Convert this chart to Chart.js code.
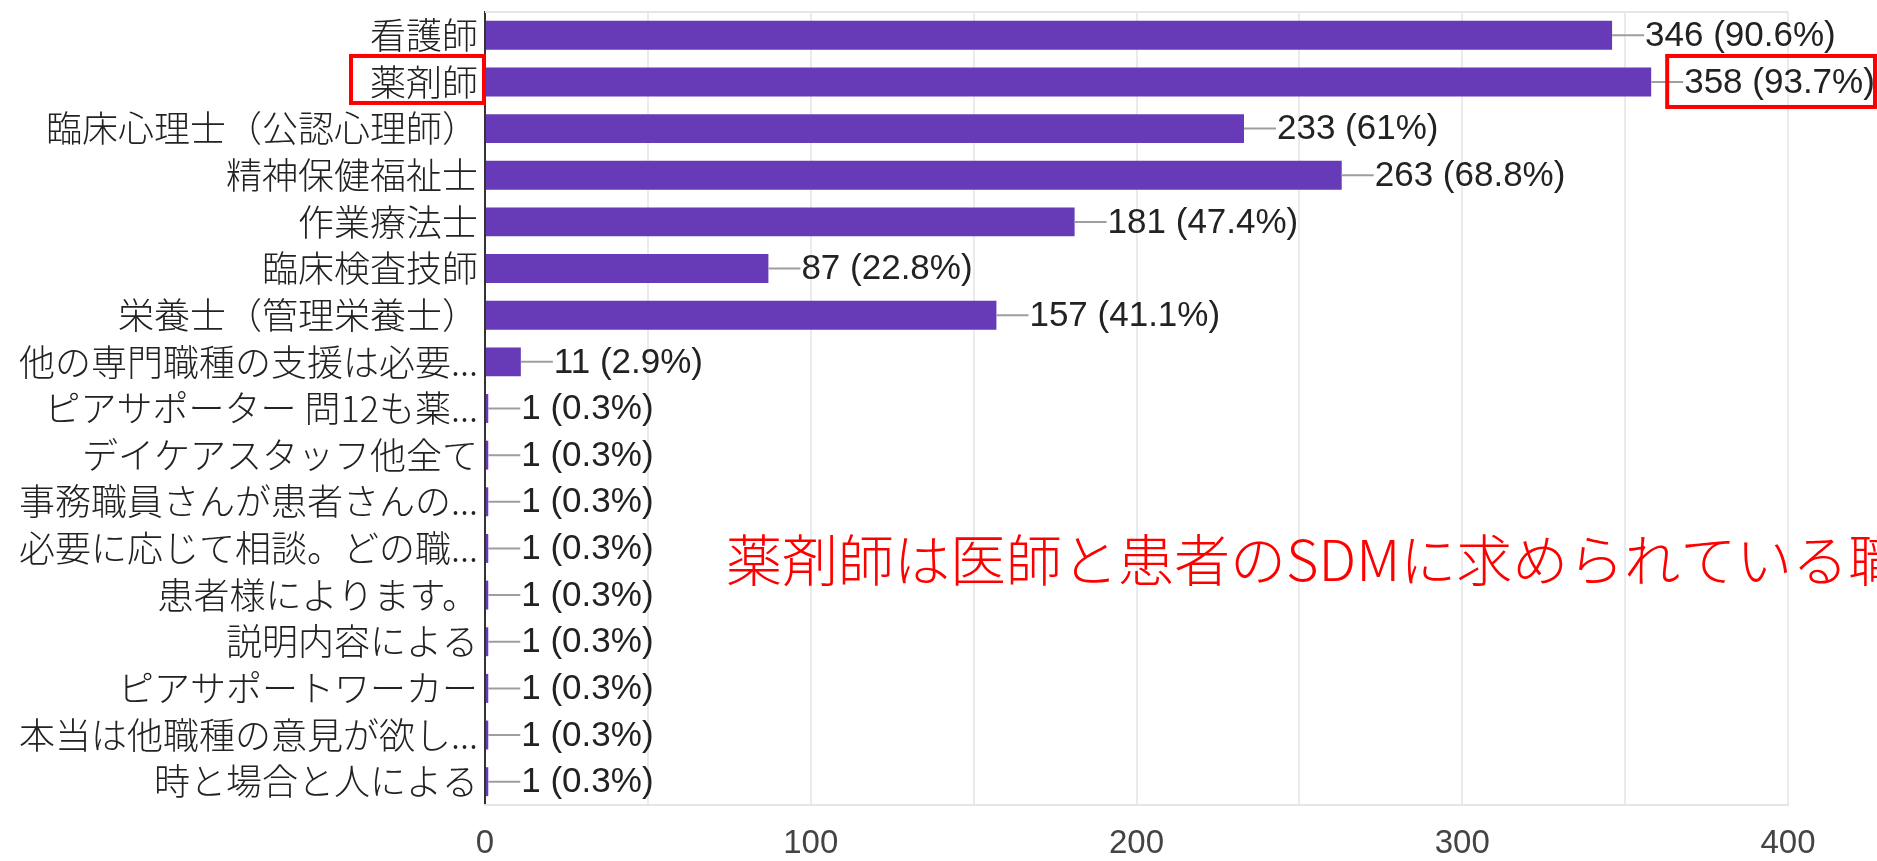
<!DOCTYPE html>
<html>
<head>
<meta charset="utf-8">
<script src="https://cdn.jsdelivr.net/npm/chart.js@4.4.1/dist/chart.umd.min.js"></script>
<style>
html,body{margin:0;padding:0;background:#fff;}
canvas{display:block;}
</style>
</head>
<body>
<canvas id="c" width="1877" height="861"></canvas>
<script>
const categories = [
  "看護師",
  "薬剤師",
  "臨床心理士（公認心理師）",
  "精神保健福祉士",
  "作業療法士",
  "臨床検査技師",
  "栄養士（管理栄養士）",
  "他の専門職種の支援は必要...",
  "ピアサポーター 問12も薬...",
  "デイケアスタッフ他全て",
  "事務職員さんが患者さんの...",
  "必要に応じて相談。どの職...",
  "患者様によります。",
  "説明内容による",
  "ピアサポートワーカー",
  "本当は他職種の意見が欲し...",
  "時と場合と人による"
];
const counts = [346, 358, 233, 263, 181, 87, 157, 11, 1, 1, 1, 1, 1, 1, 1, 1, 1];
const percents = [90.6, 93.7, 61, 68.8, 47.4, 22.8, 41.1, 2.9, 0.3, 0.3, 0.3, 0.3, 0.3, 0.3, 0.3, 0.3, 0.3];
const xTickLabels = [0, 100, 200, 300, 400];
const highlightIndex = 1;
const annotationText = "薬剤師は医師と患者のSDMに求められている職";
const annotationAt = { x: 74, y: 11.25 };

const labelFont = '300 36px "Noto Sans CJK JP", sans-serif';
const valueFont = '35px "Liberation Sans", Arial, sans-serif';

const frame = {
  id: 'frame',
  beforeDatasetsDraw(chart) {
    const {ctx, chartArea} = chart;
    ctx.save();
    ctx.strokeStyle = '#e6e6e6';
    ctx.lineWidth = 2;
    ctx.beginPath();
    ctx.moveTo(chartArea.left, chartArea.top);
    ctx.lineTo(chartArea.right, chartArea.top);
    ctx.stroke();
    ctx.restore();
  }
};

const valueLabels = {
  id: 'valueLabels',
  afterDatasetsDraw(chart) {
    const {ctx} = chart;
    const meta = chart.getDatasetMeta(0);
    ctx.save();
    ctx.font = valueFont;
    ctx.textBaseline = 'middle';
    ctx.textAlign = 'left';
    meta.data.forEach((bar, i) => {
      const x = bar.x, y = bar.y;
      ctx.strokeStyle = '#9e9e9e';
      ctx.lineWidth = 2;
      ctx.beginPath();
      ctx.moveTo(x, y);
      ctx.lineTo(x + 32, y);
      ctx.stroke();
      ctx.fillStyle = '#222';
      ctx.fillText(counts[i] + ' (' + percents[i] + '%)', x + 33, y + 1);
    });
    ctx.restore();
  }
};

const annotations = {
  id: 'annotations',
  afterDraw(chart) {
    const {ctx} = chart;
    const xs = chart.scales.x, ys = chart.scales.y;
    const bar = chart.getDatasetMeta(0).data[highlightIndex];
    const cy = ys.getPixelForValue(highlightIndex);
    ctx.save();
    ctx.strokeStyle = '#ff0000';
    ctx.lineWidth = 4;
    // box around category label
    ctx.font = labelFont;
    const tw = ctx.measureText(categories[highlightIndex]).width;
    const labelRight = ys.right - 7;
    ctx.strokeRect(labelRight - tw - 19, cy - 26, tw + 25, 47);
    // box around value label
    const vx = bar.x + 33;
    ctx.strokeRect(vx - 17, cy - 26, chart.width - 2 - (vx - 17), 51);
    // annotation text
    ctx.fillStyle = '#ff0000';
    ctx.font = '300 56px "Noto Sans CJK JP", sans-serif';
    ctx.textBaseline = 'middle';
    ctx.textAlign = 'left';
    ctx.fillText(annotationText, xs.getPixelForValue(annotationAt.x), ys.getPixelForValue(annotationAt.y));
    ctx.restore();
  }
};

new Chart(document.getElementById('c'), {
  type: 'bar',
  data: {
    labels: categories,
    datasets: [{
      data: counts,
      backgroundColor: '#673ab7',
      borderWidth: 0,
      barPercentage: 0.62,
      categoryPercentage: 1
    }]
  },
  options: {
    indexAxis: 'y',
    responsive: false,
    animation: false,
    devicePixelRatio: 1,
    layout: { padding: { top: 12, right: 89, left: 0, bottom: 0 } },
    plugins: { legend: { display: false }, tooltip: { enabled: false } },
    scales: {
      y: {
        afterFit(s) { s.width = 485; s.paddingTop = 0; s.paddingBottom = 0; },
        grid: { display: false, drawTicks: false },
        border: { color: '#333', width: 2 },
        ticks: {
          padding: 7,
          color: '#222',
          font: { family: '"Noto Sans CJK JP", sans-serif', size: 36, weight: 300 },
          autoSkip: false
        }
      },
      x: {
        min: 0,
        max: 400,
        afterFit(s) { s.height = 56; },
        grid: { color: '#ebebeb', lineWidth: 2, drawTicks: false },
        border: { color: '#e6e6e6', width: 2 },
        ticks: {
          stepSize: 50,
          padding: 19,
          color: '#444',
          font: { family: '"Liberation Sans", Arial, sans-serif', size: 33 },
          callback: (v) => xTickLabels.includes(v) ? String(v) : ''
        }
      }
    }
  },
  plugins: [frame, valueLabels, annotations]
});
</script>
</body>
</html>
